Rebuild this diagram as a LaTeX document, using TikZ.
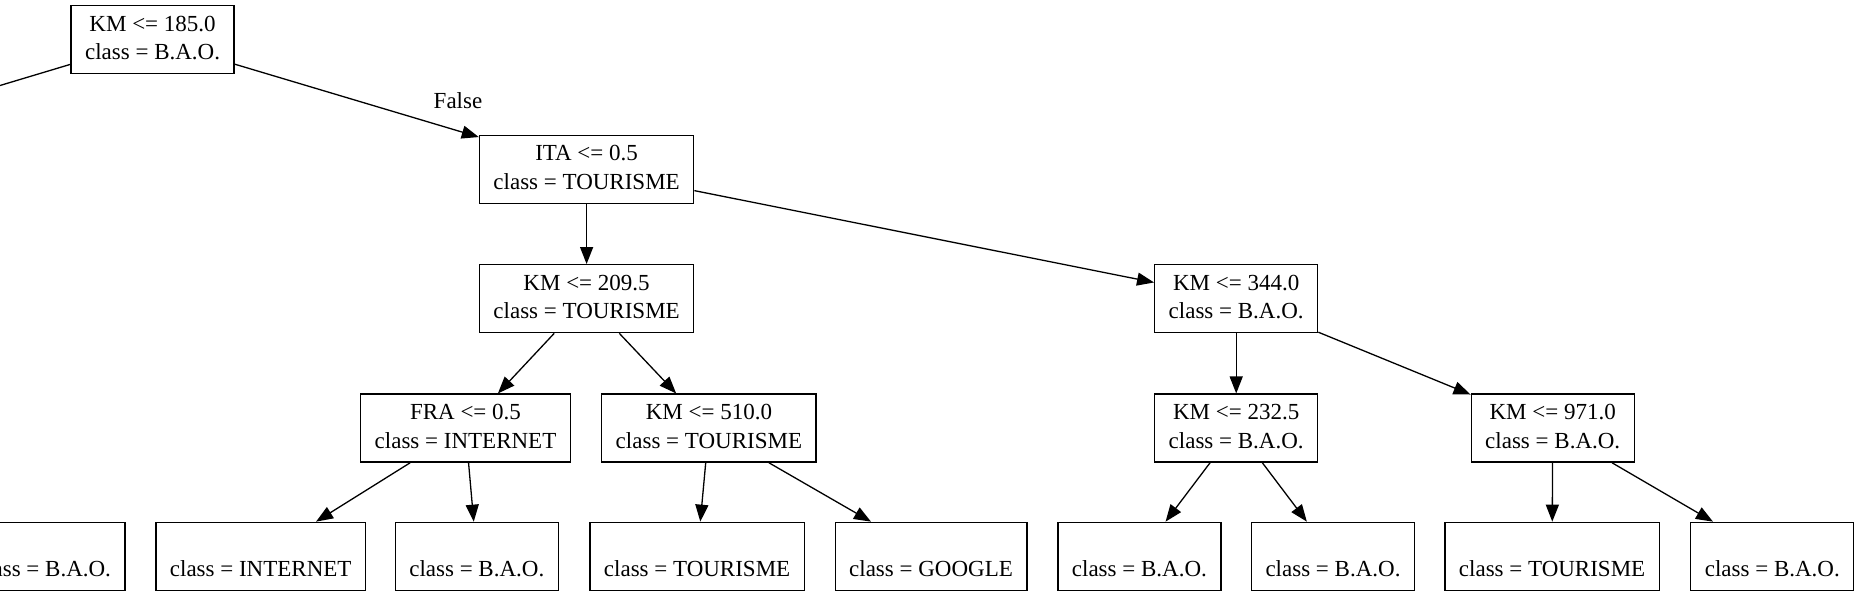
\documentclass[tikz,border=0pt]{standalone}
\usepackage{fontspec}
\setmainfont{Liberation Serif}
\usetikzlibrary{arrows.meta, positioning}

\begin{document}
\begin{tikzpicture}[
x=1pt, y=-1pt,
    split/.style={rectangle, draw, line width=1.3pt, align=center, inner xsep=14pt, inner ysep=4pt, minimum height=68pt, font=\fontsize{23}{28.5}\selectfont},
    leaf/.style={split},
    edgelabel/.style={font=\fontsize{23}{28.5}\selectfont, inner sep=0pt},
    line/.style={draw, line width=1.3pt, -{Triangle[length=17pt, width=13pt]}}
]

    % --- Canvas ---
    \clip (0, 0) rectangle (1862, 597);

    % --- Root and its visible branch ---
    \node[split] (root) at (152.6, 39.8) {\strut KM <= 185.0\\\strut class = B.A.O.};
    \coordinate (leftkid) at (-200, 145.6);
    \node[split] (ita) at (586.6, 169.2) {\strut ITA <= 0.5\\\strut class = TOURISME};

    \draw[line] (root) -- (leftkid);
    \draw[line] (root) -- (ita);
    \node[edgelabel] (false) at (458, 101) {False};

    % --- Second level ---
    \node[split] (km209) at (586.6, 298.7) {\strut KM <= 209.5\\\strut class = TOURISME};
    \node[split] (km344) at (1236.2, 298.7) {\strut KM <= 344.0\\\strut class = B.A.O.};

    \draw[line] (ita) -- (km209);
    \draw[line] (ita) -- (km344);

    % --- Third level ---
    \node[split] (fra) at (465.5, 428.1) {\strut FRA <= 0.5\\\strut class = INTERNET};
    \node[split] (km510) at (708.9, 428.1) {\strut KM <= 510.0\\\strut class = TOURISME};
    \node[split] (km232) at (1236.2, 428.1) {\strut KM <= 232.5\\\strut class = B.A.O.};
    \node[split] (km971) at (1552.7, 428.1) {\strut KM <= 971.0\\\strut class = B.A.O.};

    \draw[line] (km209) -- (fra);
    \draw[line] (km209) -- (km510);
    \draw[line] (km344) -- (km232);
    \draw[line] (km344) -- (km971);

    % --- Leaves ---
    \node[leaf] (leafa) at (43.5, 556.3) {\strut\\\strut class = B.A.O.};
    \node[leaf] (leafb) at (260.7, 556.3) {\strut\\\strut class = INTERNET};
    \node[leaf] (leafc) at (476.8, 556.3) {\strut\\\strut class = B.A.O.};
    \node[leaf] (leafd) at (697.1, 556.3) {\strut\\\strut class = TOURISME};
    \node[leaf] (leafe) at (931, 556.3) {\strut\\\strut class = GOOGLE};
    \node[leaf] (leaff) at (1139.4, 556.3) {\strut\\\strut class = B.A.O.};
    \node[leaf] (leafg) at (1333, 556.3) {\strut\\\strut class = B.A.O.};
    \node[leaf] (leafh) at (1552.1, 556.3) {\strut\\\strut class = TOURISME};
    \node[leaf] (leafi) at (1772.3, 556.3) {\strut\\\strut class = B.A.O.};

    \draw[line] (fra) -- (leafb);
    \draw[line] (fra) -- (leafc);
    \draw[line] (km510) -- (leafd);
    \draw[line] (km510) -- (leafe);
    \draw[line] (km232) -- (leaff);
    \draw[line] (km232) -- (leafg);
    \draw[line] (km971) -- (leafh);
    \draw[line] (km971) -- (leafi);

\end{tikzpicture}
\end{document}
